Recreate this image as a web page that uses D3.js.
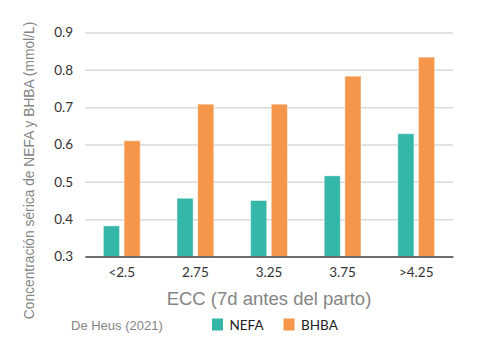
<!DOCTYPE html>
<html>
  <head>
    <meta charset="utf-8">
    <title>NEFA y BHBA por ECC</title>
    <style>
      body { margin: 0; background: #fff; }
      .tick text { font: 13.5px Lato, sans-serif; fill: #333; }
      .grid line { stroke: #d9d9d9; stroke-width: 1.5px; }
      .axis-title { font-family: "Liberation Sans", Arial, sans-serif; fill: #858585; }
      .legend text { font: 13.5px Lato, sans-serif; }
    </style>
  </head>
  <body>
    <div id="chart"></div>
    <script src="https://cdn.jsdelivr.net/npm/d3@7"></script>
    <script>
      // values
      const categories = ["<2.5", "2.75", "3.25", "3.75", ">4.25"];
      const seriesNames = ["NEFA", "BHBA"];
      const nefa = [0.382, 0.456, 0.450, 0.516, 0.629];
      const bhba = [0.610, 0.708, 0.708, 0.783, 0.834];
      const yTicks = [0.3, 0.4, 0.5, 0.6, 0.7, 0.8, 0.9];
      const colors = ["#34b6a8", "#f5964a"];

      const width = 486, height = 341;
      const margin = { top: 32.5, right: 33, bottom: 84.5, left: 85 };
      const innerW = width - margin.left - margin.right;
      const innerH = height - margin.top - margin.bottom;

      const rows = categories.map((c, i) => ({ cat: c, values: [nefa[i], bhba[i]] }));

      const svg = d3.select("#chart")
        .append("svg")
        .attr("width", width)
        .attr("height", height);

      const g = svg.append("g")
        .attr("transform", `translate(${margin.left},${margin.top})`);

      const x0 = d3.scaleBand().domain(categories).range([0, innerW])
        .paddingInner(0.5).paddingOuter(0.25);
      const x1 = d3.scaleBand().domain(seriesNames).range([0, x0.bandwidth()])
        .paddingInner(0.22);
      const y = d3.scaleLinear().domain([0.3, 0.9]).range([innerH, 0]);

      // gridlines + y labels
      const yAxis = g.append("g")
        .attr("class", "grid")
        .call(d3.axisLeft(y).tickValues(yTicks).tickFormat(d3.format(".1f"))
          .tickSize(-innerW).tickPadding(12));
      yAxis.select(".domain").remove();

      // bars
      g.selectAll(".group")
        .data(rows)
        .enter().append("g")
          .attr("class", "group")
          .attr("transform", d => `translate(${x0(d.cat)},0)`)
        .selectAll("rect")
        .data(d => d.values.map((v, i) => ({ key: seriesNames[i], v, i })))
        .enter().append("rect")
          .attr("x", d => x1(d.key))
          .attr("width", x1.bandwidth())
          .attr("y", d => y(d.v))
          .attr("height", d => innerH - y(d.v))
          .attr("fill", d => colors[d.i])
          .attr("stroke", "rgba(255,255,255,0.45)")
          .attr("stroke-width", 1);

      // x axis
      const xAxis = g.append("g")
        .attr("transform", `translate(0,${innerH})`)
        .call(d3.axisBottom(x0).tickSize(0).tickPadding(11));
      xAxis.select(".domain").attr("stroke", "#444").attr("stroke-width", 1.5);

      // axis titles
      svg.append("text")
        .attr("class", "axis-title")
        .attr("x", margin.left + innerW / 2)
        .attr("y", 305)
        .attr("text-anchor", "middle")
        .style("font-size", "18.5px")
        .text("ECC (7d antes del parto)");

      svg.append("text")
        .attr("class", "axis-title")
        .attr("transform", "translate(34,170.5) rotate(-90)")
        .attr("text-anchor", "middle")
        .style("font-size", "13.8px")
        .text("Concentración sérica de NEFA y BHBA (mmol/L)");

      // source + legend
      svg.append("text")
        .attr("class", "axis-title")
        .attr("x", 71)
        .attr("y", 329.5)
        .style("font-size", "13px")
        .text("De Heus (2021)");

      const legend = svg.append("g").attr("class", "legend")
        .selectAll("g")
        .data(seriesNames)
        .enter().append("g")
          .attr("transform", (d, i) => `translate(${212 + i * 71.5},318.5)`);
      legend.append("rect")
        .attr("width", 11).attr("height", 12)
        .attr("fill", (d, i) => colors[i]);
      legend.append("text")
        .attr("x", 17.5).attr("y", 11)
        .attr("fill", "#222")
        .text(d => d);
    </script>
  </body>
</html>
